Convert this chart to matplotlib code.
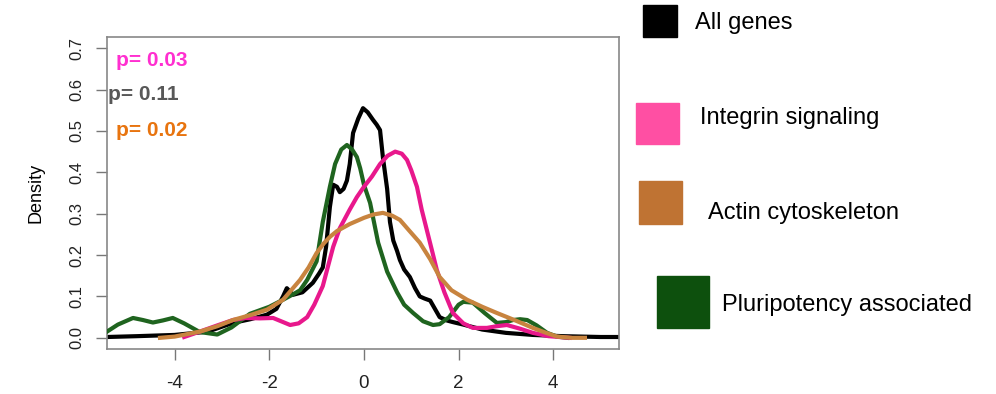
import numpy as np
import matplotlib.pyplot as plt
from matplotlib.patches import Rectangle

plt.rcParams['font.family'] = ['Liberation Sans', 'DejaVu Sans']

# Density curves
all_x = [-5.43, -4.8, -4.0, -3.3, -2.77, -2.4, -2.05, -1.85, -1.71, -1.63, -1.5, -1.3, -1.08, -0.95,
         -0.87, -0.8, -0.72, -0.65, -0.57, -0.51, -0.43, -0.36, -0.3, -0.23, -0.12, -0.02, 0.08, 0.19,
         0.27, 0.34, 0.4, 0.49, 0.55, 0.62, 0.7, 0.76, 0.85, 0.97, 1.08, 1.18, 1.28, 1.4, 1.5, 1.6,
         1.75, 1.88, 2.1, 2.5, 3.0, 3.57, 4.2, 5.0, 5.43]
all_y = [0.002, 0.004, 0.007, 0.015, 0.036, 0.045, 0.056, 0.07, 0.10, 0.12, 0.104, 0.11, 0.133, 0.155,
         0.17, 0.22, 0.316, 0.37, 0.365, 0.352, 0.36, 0.38, 0.42, 0.495, 0.53, 0.555, 0.545, 0.527,
         0.515, 0.502, 0.437, 0.36, 0.28, 0.235, 0.21, 0.188, 0.165, 0.147, 0.12, 0.10, 0.095, 0.09,
         0.07, 0.05, 0.042, 0.038, 0.032, 0.02, 0.012, 0.007, 0.004, 0.002, 0.002]

integrin_x = [-3.8, -3.47, -3.1, -2.77, -2.5, -2.2, -1.92, -1.75, -1.56, -1.38, -1.2, -1.05, -0.87,
              -0.78, -0.65, -0.51, -0.3, -0.15, 0.0, 0.17, 0.34, 0.5, 0.66, 0.8, 0.91, 1.0, 1.12, 1.22,
              1.33, 1.44, 1.54, 1.7, 1.88, 2.1, 2.3, 2.6, 2.8, 3.02, 3.3, 3.57, 3.9, 4.35]
integrin_y = [0.002, 0.015, 0.03, 0.043, 0.048, 0.047, 0.048, 0.04, 0.031, 0.035, 0.05, 0.08, 0.125,
              0.164, 0.22, 0.265, 0.31, 0.34, 0.365, 0.39, 0.42, 0.44, 0.45, 0.445, 0.43, 0.405, 0.365,
              0.31, 0.26, 0.21, 0.164, 0.11, 0.06, 0.035, 0.024, 0.024, 0.028, 0.031, 0.022, 0.012,
              0.004, 0.0]

actin_x = [-4.31, -4.0, -3.47, -3.1, -2.77, -2.4, -2.05, -1.71, -1.5, -1.35, -1.17, -1.0, -0.85,
           -0.72, -0.57, -0.3, 0.0, 0.2, 0.4, 0.6, 0.76, 0.95, 1.18, 1.4, 1.6, 1.85, 2.18, 2.5, 2.81,
           3.2, 3.57, 3.85, 4.08, 4.4, 4.67]
actin_y = [0.0, 0.003, 0.015, 0.028, 0.043, 0.055, 0.068, 0.092, 0.12, 0.14, 0.17, 0.205, 0.228,
           0.244, 0.258, 0.275, 0.29, 0.298, 0.302, 0.295, 0.285, 0.26, 0.23, 0.19, 0.147, 0.115,
           0.092, 0.075, 0.06, 0.042, 0.024, 0.012, 0.003, 0.0, 0.0]

pluri_x = [-5.43, -5.2, -4.88, -4.67, -4.46, -4.25, -4.04, -3.8, -3.47, -3.1, -2.8, -2.41, -2.0,
           -1.71, -1.5, -1.35, -1.2, -1.0, -0.87, -0.72, -0.61, -0.48, -0.36, -0.25, -0.15, -0.08,
           0.0, 0.13, 0.3, 0.49, 0.7, 0.85, 1.04, 1.25, 1.46, 1.6, 1.8, 2.0, 2.1, 2.3, 2.55, 2.81,
           3.0, 3.15, 3.3, 3.45, 3.65, 3.87, 4.08, 4.3]
pluri_y = [0.015, 0.032, 0.048, 0.043, 0.037, 0.042, 0.048, 0.035, 0.014, 0.008, 0.025, 0.058, 0.075,
           0.092, 0.105, 0.115, 0.14, 0.185, 0.28, 0.365, 0.42, 0.455, 0.466, 0.455, 0.437, 0.41,
           0.37, 0.326, 0.23, 0.16, 0.11, 0.08, 0.06, 0.04, 0.031, 0.033, 0.05, 0.08, 0.087, 0.085,
           0.06, 0.036, 0.038, 0.043, 0.045, 0.043, 0.03, 0.012, 0.003, 0.0]

legend_labels = ['All genes', 'Integrin signaling', 'Actin cytoskeleton', 'Pluripotency associated']
legend_colors = ['#000000', '#ff4fa3', '#bf7333', '#0d500d']
curve_colors = ['#000000', '#e8188c', '#c8843f', '#1f641f']

p_labels = ['p= 0.03', 'p= 0.11', 'p= 0.02']
p_colors = ['#ff2fd0', '#585858', '#e8740f']

W, H = 996, 394
fig = plt.figure(figsize=(W / 100, H / 100), dpi=100)
ax = fig.add_axes([107 / W, 1 - 349 / H, 512 / W, 312 / H])

ax.plot(all_x, all_y, color=curve_colors[0], lw=3.0, solid_joinstyle='round', zorder=2)
ax.plot(pluri_x, pluri_y, color=curve_colors[3], lw=3.0, solid_joinstyle='round', zorder=3)
ax.plot(integrin_x, integrin_y, color=curve_colors[1], lw=3.0, solid_joinstyle='round', zorder=3)
ax.plot(actin_x, actin_y, color=curve_colors[2], lw=3.0, solid_joinstyle='round', zorder=4)

ax.set_xlim(-5.43, 5.39)
ax.set_ylim(-0.027, 0.727)
ax.set_xticks([-4, -2, 0, 2, 4])
ax.set_yticks(np.arange(0, 0.71, 0.1))
ax.set_xticklabels(['-4', '-2', '0', '2', '4'])
ax.set_yticklabels(['%.1f' % v for v in np.arange(0, 0.71, 0.1)], rotation=90, va='center')
ax.tick_params(axis='both', length=8, width=1, color='#777777', labelcolor='#222222')
ax.tick_params(axis='x', pad=11, labelsize=13.5)
ax.tick_params(axis='y', pad=8, labelsize=12)
for s in ax.spines.values():
    s.set_color('#888888')
    s.set_linewidth(1.2)
ax.set_ylabel('Density', fontsize=13, labelpad=18)

# p-values
p_pos = [(116, 60), (108, 95), (116, 131)]
for lab, col, (px, py) in zip(p_labels, p_colors, p_pos):
    fig.text(px / W, 1 - py / H, lab, color=col, fontsize=15, fontweight='bold', va='center')

# legend squares and labels
sq = [(643, 5, 34, 32), (636, 103, 43, 41), (639, 181, 43, 43), (657, 276, 52, 52)]
tx = [(695, 23), (700, 118), (708, 213), (722, 305)]
for lab, col, (x0, y0, w, h), (px, py) in zip(legend_labels, legend_colors, sq, tx):
    fig.add_artist(Rectangle((x0 / W, 1 - (y0 + h) / H), w / W, h / H, color=col,
                             transform=fig.transFigure))
    fig.text(px / W, 1 - py / H, lab, fontsize=17, va='center')

plt.savefig('out.png', dpi=100)
